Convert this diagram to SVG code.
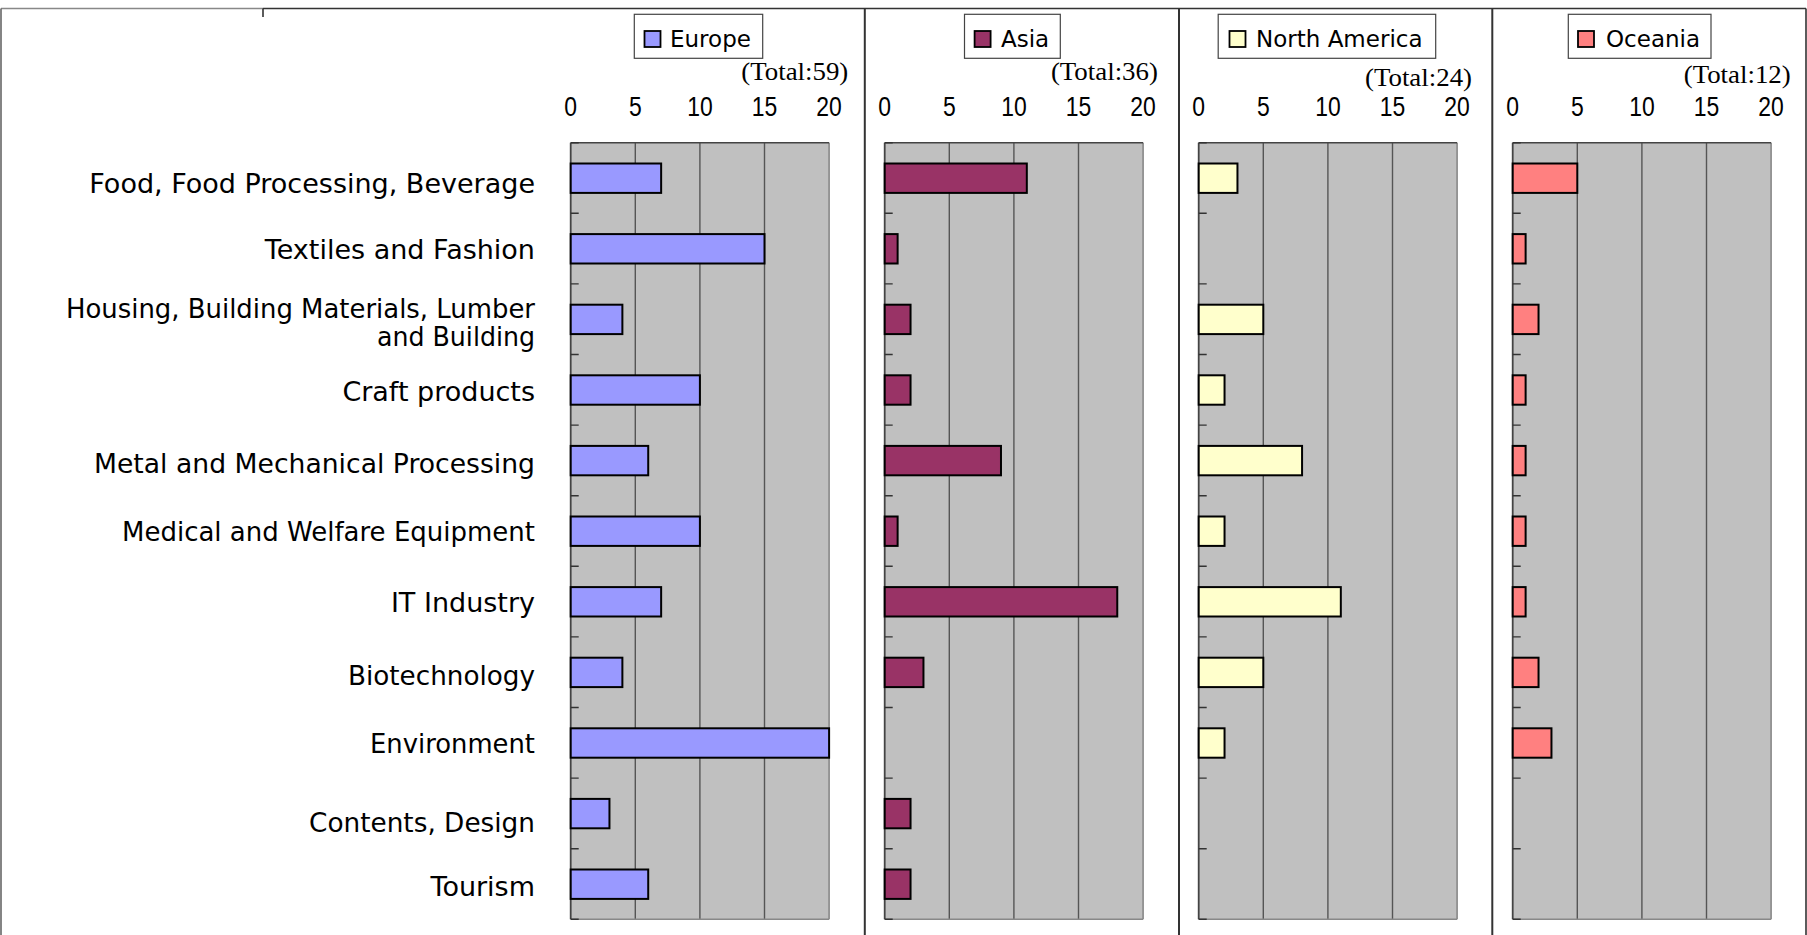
<svg xmlns="http://www.w3.org/2000/svg" xmlns:xlink="http://www.w3.org/1999/xlink" width="1807" height="935" viewBox="0 0 1807 935">
<style>
.lbl{font-family:"DejaVu Sans",sans-serif;font-size:27px;fill:#000;text-anchor:end}
.leg{font-family:"DejaVu Sans",sans-serif;font-size:23px;fill:#000}
.tot{font-family:"Liberation Serif",serif;font-size:26px;fill:#000;text-anchor:end}
.num{font-family:"Liberation Sans",sans-serif;font-size:27px;fill:#000;text-anchor:middle}
.legbox{fill:#fff;stroke:#444;stroke-width:1.2}
.sw{stroke:#000;stroke-width:1.8}
.bar{stroke:#000;stroke-width:2}
.eu{fill:#9999FF}.as{fill:#993366}.na{fill:#FFFFCC}.oc{fill:#FF8080}
.grid{stroke:#555;stroke-width:1.4}
.tick{stroke:#333;stroke-width:1.4}
</style>
<defs>
<g id="plot">
<rect x="0" y="142.7" width="258.4" height="776.6" fill="#C0C0C0"/>
<line class="grid" x1="64.6" y1="142.7" x2="64.6" y2="919.3"/>
<line class="grid" x1="129.2" y1="142.7" x2="129.2" y2="919.3"/>
<line class="grid" x1="193.8" y1="142.7" x2="193.8" y2="919.3"/>
<line x1="258.4" y1="142.7" x2="258.4" y2="919.3" stroke="#888" stroke-width="1.6"/>
<line x1="0" y1="919.3" x2="258.4" y2="919.3" stroke="#888" stroke-width="1.6"/>
<line x1="0" y1="142.7" x2="258.4" y2="142.7" stroke="#444" stroke-width="1.6"/>
<line x1="0" y1="142.7" x2="0" y2="919.3" stroke="#444" stroke-width="1.8"/>
<path class="tick" d="M0 142.7h8M0 213.3h8M0 283.9h8M0 354.5h8M0 425.1h8M0 495.7h8M0 566.3h8M0 636.9h8M0 707.5h8M0 778.1h8M0 848.7h8M0 919.3h8"/>
</g>
<g id="nums">
<text class="num" transform="translate(0,116) scale(0.85,1)">0</text>
<text class="num" transform="translate(64.6,116) scale(0.85,1)">5</text>
<text class="num" transform="translate(129.2,116) scale(0.85,1)">10</text>
<text class="num" transform="translate(193.8,116) scale(0.85,1)">15</text>
<text class="num" transform="translate(258.4,116) scale(0.85,1)">20</text>
</g>
</defs>
<rect width="1807" height="935" fill="#fff"/>
<g id="frame">
<line x1="1" y1="8.5" x2="263" y2="8.5" stroke="#888" stroke-width="1.6"/>
<line x1="263" y1="8.5" x2="1806" y2="8.5" stroke="#333" stroke-width="1.6"/>
<line x1="263" y1="8.5" x2="263" y2="17" stroke="#333" stroke-width="1.6"/>
<line x1="1" y1="8.5" x2="1" y2="935" stroke="#666" stroke-width="1.6"/>
<line x1="1806" y1="8.5" x2="1806" y2="935" stroke="#333" stroke-width="1.6"/>
<line x1="864.8" y1="8.5" x2="864.8" y2="935" stroke="#333" stroke-width="2"/>
<line x1="1179" y1="8.5" x2="1179" y2="935" stroke="#333" stroke-width="2"/>
<line x1="1492.3" y1="8.5" x2="1492.3" y2="935" stroke="#333" stroke-width="2"/>
</g>
<g id="labels">
<text class="lbl" x="535" y="192.5">Food, Food Processing, Beverage</text>
<text class="lbl" x="535" y="258.5">Textiles and Fashion</text>
<text class="lbl" x="535" y="317.5" textLength="469" lengthAdjust="spacingAndGlyphs">Housing, Building Materials, Lumber</text>
<text class="lbl" x="535" y="346" textLength="158" lengthAdjust="spacingAndGlyphs">and Building</text>
<text class="lbl" x="535" y="401">Craft products</text>
<text class="lbl" x="535" y="472.5" textLength="441" lengthAdjust="spacingAndGlyphs">Metal and Mechanical Processing</text>
<text class="lbl" x="535" y="541" textLength="413" lengthAdjust="spacingAndGlyphs">Medical and Welfare Equipment</text>
<text class="lbl" x="535" y="612">IT Industry</text>
<text class="lbl" x="535" y="684.5" textLength="187" lengthAdjust="spacingAndGlyphs">Biotechnology</text>
<text class="lbl" x="535" y="753" textLength="165" lengthAdjust="spacingAndGlyphs">Environment</text>
<text class="lbl" x="535" y="831.5" textLength="226" lengthAdjust="spacingAndGlyphs">Contents, Design</text>
<text class="lbl" x="535" y="895.5">Tourism</text>
</g>
<g id="europe">
<use xlink:href="#plot" x="570.7"/>
<use xlink:href="#nums" x="570.7"/>
<rect class="legbox" x="634.3" y="14.3" width="128.4" height="44"/>
<rect class="sw eu" x="644.5" y="31" width="16" height="16"/>
<text class="leg" x="670" y="46.5">Europe</text>
<text class="tot" x="848.3" y="79.5" textLength="107" lengthAdjust="spacingAndGlyphs">(Total:59)</text>
<g transform="translate(570.7,0)">
<rect class="bar eu" x="0" y="163.5" width="90.44" height="29.4"/>
<rect class="bar eu" x="0" y="234.1" width="193.8" height="29.4"/>
<rect class="bar eu" x="0" y="304.7" width="51.68" height="29.4"/>
<rect class="bar eu" x="0" y="375.3" width="129.2" height="29.4"/>
<rect class="bar eu" x="0" y="445.9" width="77.52" height="29.4"/>
<rect class="bar eu" x="0" y="516.5" width="129.2" height="29.4"/>
<rect class="bar eu" x="0" y="587.1" width="90.44" height="29.4"/>
<rect class="bar eu" x="0" y="657.7" width="51.68" height="29.4"/>
<rect class="bar eu" x="0" y="728.3" width="258.4" height="29.4"/>
<rect class="bar eu" x="0" y="798.9" width="38.76" height="29.4"/>
<rect class="bar eu" x="0" y="869.5" width="77.52" height="29.4"/>
</g>
</g>
<g id="asia">
<use xlink:href="#plot" x="884.7"/>
<use xlink:href="#nums" x="884.7"/>
<rect class="legbox" x="964.5" y="14.3" width="95.8" height="44"/>
<rect class="sw as" x="974.6" y="31" width="16" height="16"/>
<text class="leg" x="1001" y="46.5">Asia</text>
<text class="tot" x="1157.9" y="79.5" textLength="107" lengthAdjust="spacingAndGlyphs">(Total:36)</text>
<g transform="translate(884.7,0)">
<rect class="bar as" x="0" y="163.5" width="142.12" height="29.4"/>
<rect class="bar as" x="0" y="234.1" width="12.92" height="29.4"/>
<rect class="bar as" x="0" y="304.7" width="25.84" height="29.4"/>
<rect class="bar as" x="0" y="375.3" width="25.84" height="29.4"/>
<rect class="bar as" x="0" y="445.9" width="116.28" height="29.4"/>
<rect class="bar as" x="0" y="516.5" width="12.92" height="29.4"/>
<rect class="bar as" x="0" y="587.1" width="232.56" height="29.4"/>
<rect class="bar as" x="0" y="657.7" width="38.76" height="29.4"/>
<rect class="bar as" x="0" y="798.9" width="25.84" height="29.4"/>
<rect class="bar as" x="0" y="869.5" width="25.84" height="29.4"/>
</g>
</g>
<g id="north-america">
<use xlink:href="#plot" x="1198.7"/>
<use xlink:href="#nums" x="1198.7"/>
<rect class="legbox" x="1218.2" y="14.3" width="217.5" height="44"/>
<rect class="sw na" x="1229.5" y="31" width="16" height="16"/>
<text class="leg" x="1256" y="46.5">North America</text>
<text class="tot" x="1472" y="85.5" textLength="107" lengthAdjust="spacingAndGlyphs">(Total:24)</text>
<g transform="translate(1198.7,0)">
<rect class="bar na" x="0" y="163.5" width="38.76" height="29.4"/>
<rect class="bar na" x="0" y="304.7" width="64.6" height="29.4"/>
<rect class="bar na" x="0" y="375.3" width="25.84" height="29.4"/>
<rect class="bar na" x="0" y="445.9" width="103.36" height="29.4"/>
<rect class="bar na" x="0" y="516.5" width="25.84" height="29.4"/>
<rect class="bar na" x="0" y="587.1" width="142.12" height="29.4"/>
<rect class="bar na" x="0" y="657.7" width="64.6" height="29.4"/>
<rect class="bar na" x="0" y="728.3" width="25.84" height="29.4"/>
</g>
</g>
<g id="oceania">
<use xlink:href="#plot" x="1512.7"/>
<use xlink:href="#nums" x="1512.7"/>
<rect class="legbox" x="1568.3" y="14.3" width="142.7" height="44"/>
<rect class="sw oc" x="1578" y="31" width="16" height="16"/>
<text class="leg" x="1606" y="46.5">Oceania</text>
<text class="tot" x="1790.7" y="83" textLength="107" lengthAdjust="spacingAndGlyphs">(Total:12)</text>
<g transform="translate(1512.7,0)">
<rect class="bar oc" x="0" y="163.5" width="64.6" height="29.4"/>
<rect class="bar oc" x="0" y="234.1" width="12.92" height="29.4"/>
<rect class="bar oc" x="0" y="304.7" width="25.84" height="29.4"/>
<rect class="bar oc" x="0" y="375.3" width="12.92" height="29.4"/>
<rect class="bar oc" x="0" y="445.9" width="12.92" height="29.4"/>
<rect class="bar oc" x="0" y="516.5" width="12.92" height="29.4"/>
<rect class="bar oc" x="0" y="587.1" width="12.92" height="29.4"/>
<rect class="bar oc" x="0" y="657.7" width="25.84" height="29.4"/>
<rect class="bar oc" x="0" y="728.3" width="38.76" height="29.4"/>
</g>
</g>
</svg>
